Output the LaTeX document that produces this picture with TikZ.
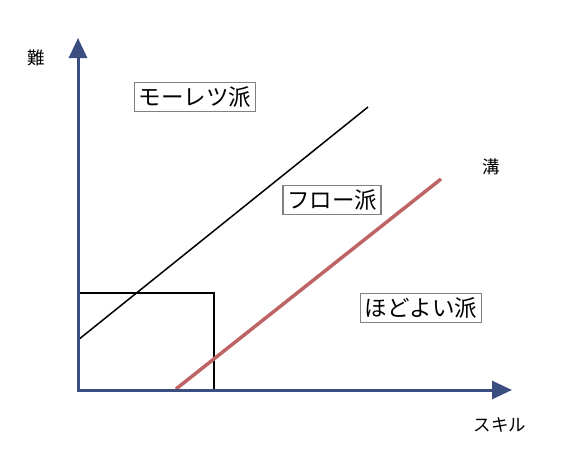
\documentclass[tikz,border=0pt]{standalone}
\usepackage{fontspec}
\newfontfamily\jpfont{Noto Sans CJK JP}
\usetikzlibrary{arrows.meta,positioning}
\definecolor{axisblue}{RGB}{58,79,128}
\definecolor{groove}{RGB}{190,100,100}

\begin{document}
\begin{tikzpicture}[
        x=1pt, y=-1pt,
        axis/.style={line width=3pt, draw=axisblue, -{Triangle[length=20pt,width=18pt]}},
        border/.style={line width=1.5pt, draw=black},
        school/.style={draw=gray, line width=1.3pt, inner sep=4pt, fill=white, font=\jpfont\fontsize{22.5}{26}\selectfont},
        tag/.style={font=\jpfont\fontsize{17.5}{20}\selectfont}
    ]
        \useasboundingbox (0,0) rectangle (565,474);

        % Points
        \coordinate (O) at (78,390);
        \coordinate (Ytip) at (78,38);
        \coordinate (Xtip) at (512,390);
        \coordinate (Ustart) at (78,340);
        \coordinate (Uend) at (368,107);
        \coordinate (Gstart) at (176,389);
        \coordinate (Gend) at (441,179);
        \coordinate (Bcorner) at (214,293);

        % Comfort box
        \draw[border] (O |- Bcorner) -- (Bcorner) -- (Bcorner |- O);

        % Boundary lines
        \draw[border] (Ustart) -- (Uend);
        \draw[line width=3.5pt, draw=groove] (Gstart) -- (Gend);

        % Axes
        \draw[axis] (O) -- (Ytip);
        \draw[axis] ([xshift=-1.5pt]O) -- (Xtip);

        % Labels
        \node[tag] (diff) at (36,58) {難};
        \node[tag] (skill) at (500,425) {スキル};
        \node[tag] (mizo) at (491,167) {溝};
        \node[school] (moretsu) at (195,97) {モーレツ派};
        \node[school] (flow) at (332,200) {フロー派};
        \node[school] (hodoyoi) at (421,308) {ほどよい派};
    \end{tikzpicture}
\end{document}
